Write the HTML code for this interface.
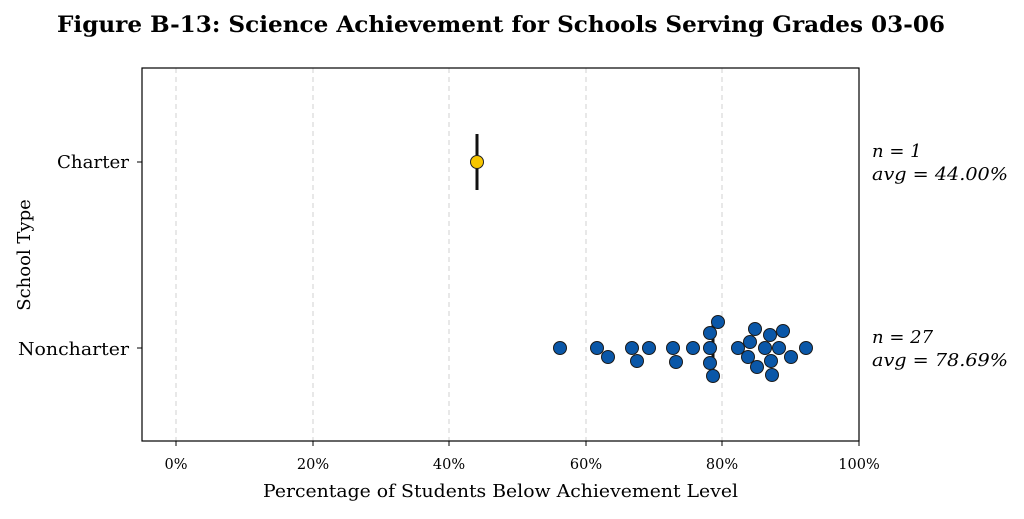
<!DOCTYPE html>
<html><head><meta charset="utf-8"><style>body{margin:0;background:#fff}</style></head><body>
<svg width="1024" height="514" xmlns="http://www.w3.org/2000/svg" font-family="'DejaVu Serif','Liberation Serif',serif">
<rect width="1024" height="514" fill="#fff"/>
<text x="57" y="32" textLength="888" lengthAdjust="spacingAndGlyphs" font-size="22" font-weight="bold" fill="#000">Figure B-13: Science Achievement for Schools Serving Grades 03-06</text>
<g stroke="#d0d0d0" stroke-dasharray="5,4" stroke-width="1">
<line x1="176" y1="68" x2="176" y2="441"/><line x1="313" y1="68" x2="313" y2="441"/><line x1="449" y1="68" x2="449" y2="441"/><line x1="586" y1="68" x2="586" y2="441"/><line x1="722" y1="68" x2="722" y2="441"/>
</g>
<rect x="142" y="68" width="717" height="373" fill="none" stroke="#000" stroke-width="1.2"/>
<g stroke="#000"><line x1="176" y1="441" x2="176" y2="446"/><line x1="313" y1="441" x2="313" y2="446"/><line x1="449" y1="441" x2="449" y2="446"/><line x1="586" y1="441" x2="586" y2="446"/><line x1="722" y1="441" x2="722" y2="446"/><line x1="859" y1="441" x2="859" y2="446"/><line x1="137" y1="162" x2="142" y2="162"/><line x1="137" y1="348" x2="142" y2="348"/></g>
<g font-size="14.5" text-anchor="middle" fill="#000"><text x="176" y="469">0%</text><text x="313" y="469">20%</text><text x="449" y="469">40%</text><text x="586" y="469">60%</text><text x="722" y="469">80%</text><text x="859" y="469">100%</text></g>
<text x="263" y="497" textLength="475" lengthAdjust="spacingAndGlyphs" font-size="18">Percentage of Students Below Achievement Level</text>
<g font-size="18"><text x="57" y="168" textLength="72" lengthAdjust="spacingAndGlyphs">Charter</text><text x="18" y="355" textLength="111" lengthAdjust="spacingAndGlyphs">Noncharter</text></g>
<text transform="translate(30,255) rotate(-90)" text-anchor="middle" font-size="18">School Type</text>
<g font-size="18" font-style="italic"><text x="872" y="157">n = 1</text><text x="872" y="180" textLength="136" lengthAdjust="spacingAndGlyphs">avg = 44.00%</text><text x="872" y="343">n = 27</text><text x="872" y="366" textLength="136" lengthAdjust="spacingAndGlyphs">avg = 78.69%</text></g>
<line x1="477" y1="134" x2="477" y2="190" stroke="#111" stroke-width="3"/>
<circle cx="477" cy="162" r="6.5" fill="#f7c600" stroke="#222" stroke-width="1"/>
<line x1="713" y1="320" x2="713" y2="376" stroke="#111" stroke-width="3"/>
<g fill="#0a57a8" stroke="#1a1a1a" stroke-width="1">
<circle cx="560" cy="348" r="6.5"/><circle cx="597" cy="348" r="6.5"/><circle cx="608" cy="357" r="6.5"/><circle cx="632" cy="348" r="6.5"/><circle cx="637" cy="361" r="6.5"/><circle cx="649" cy="348" r="6.5"/><circle cx="673" cy="348" r="6.5"/><circle cx="676" cy="362" r="6.5"/><circle cx="693" cy="348" r="6.5"/><circle cx="710" cy="333" r="6.5"/><circle cx="710" cy="348" r="6.5"/><circle cx="710" cy="363" r="6.5"/><circle cx="713" cy="376" r="6.5"/><circle cx="718" cy="322" r="6.5"/><circle cx="738" cy="348" r="6.5"/><circle cx="750" cy="342" r="6.5"/><circle cx="755" cy="329" r="6.5"/><circle cx="748" cy="357" r="6.5"/><circle cx="770" cy="335" r="6.5"/><circle cx="765" cy="348" r="6.5"/><circle cx="757" cy="367" r="6.5"/><circle cx="783" cy="331" r="6.5"/><circle cx="779" cy="348" r="6.5"/><circle cx="771" cy="361" r="6.5"/><circle cx="772" cy="375" r="6.5"/><circle cx="791" cy="357" r="6.5"/><circle cx="806" cy="348" r="6.5"/>
</g>
</svg>
</body></html>
